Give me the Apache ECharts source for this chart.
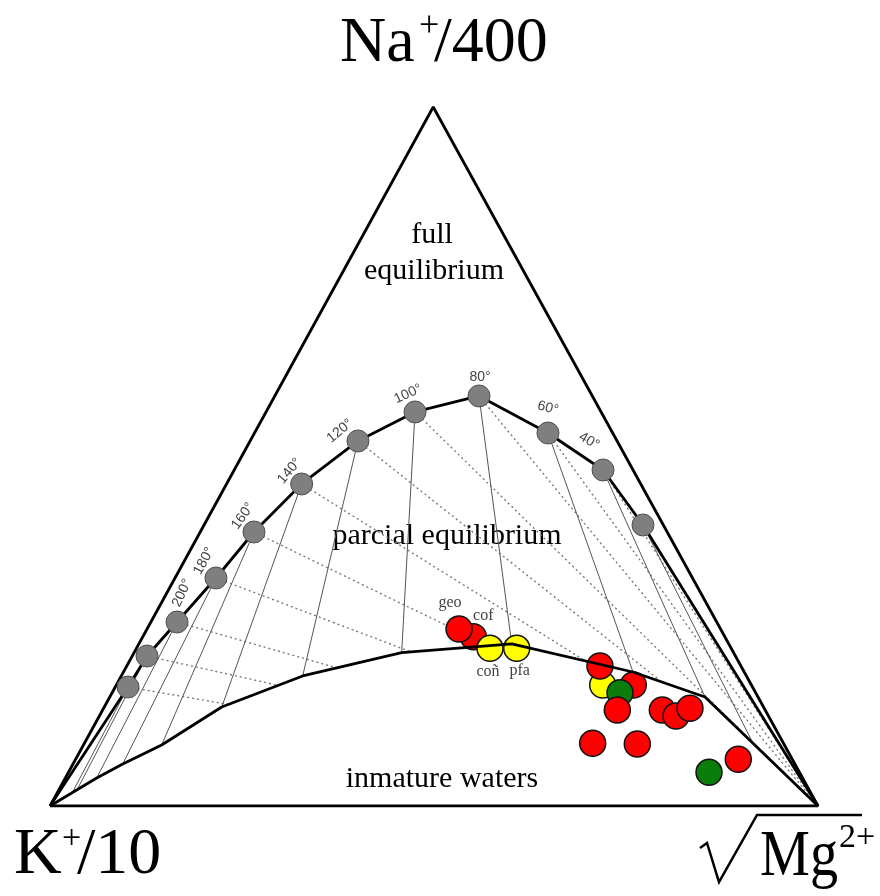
<!DOCTYPE html>
<html><head><meta charset="utf-8">
<script src="https://cdn.jsdelivr.net/npm/echarts@6/dist/echarts.min.js"></script>
<style>html,body{margin:0;padding:0;background:#fff}#c{width:880px;height:896px}</style>
</head><body><div id="c"></div>
<script>
// ---------- DATA (normalized plot units: x 0..100 along K–Mg base, y 0..100 towards the Na apex) ----------
const triangleX = [0, 49.9, 100, 0];
const triangleY = [0, 100, 0, 0];

// full equilibrium curve points (temperatures, °C)
const eqTemps = [240, 220, 200, 180, 160, 140, 120, 100, 80, 60, 40, 20];
const eqTempLabels = ['', '', '200°', '180°', '160°', '140°', '120°', '100°', '80°', '60°', '40°', ''];
const eqX = [10.16, 12.63, 16.54, 21.61, 26.56, 32.77, 40.10, 47.53, 55.86, 64.84, 72.01, 77.21];
const eqY = [17.02, 21.46, 26.32, 32.62, 39.20, 46.07, 52.22, 56.37, 58.66, 53.36, 48.07, 40.20];

// K-Mg isotherms (solid) end points on the immature-water line
const kmgEndX = [2.91, 3.52, 6.08, 9.47, 14.54, 22.36, 32.90, 45.79, 60.12, 75.91, 85.29, 91.45];
const kmgEndY = [1.92, 2.32, 4.01, 6.01, 8.73, 14.16, 18.60, 21.93, 23.18, 19.17, 15.59, 9.16];

// K-Na isotherms (dotted) end points
const knaEndX = [23.25, 29.72, 37.37, 47.03, 57.07, 69.74, 79.66, 100, 100, 100, 100, 100];
const knaEndY = [14.53, 17.26, 19.75, 22.04, 22.92, 20.74, 17.74, 0, 0, 0, 0, 0];

// immature waters boundary
const immX = [0, 6.08, 9.47, 14.54, 22.36, 32.90, 45.79, 60.12, 75.91, 85.29, 100];
const immY = [0, 4.01, 6.01, 8.73, 14.16, 18.60, 21.93, 23.18, 19.17, 15.59, 0];

// water samples
const sampleNames = ['cof', 'geo', 'coñ', 'pfa', '', '', '', '', '', '', '', '', '', '', '', ''];
const sampleGroup = ['A', 'A', 'B', 'B', 'B', 'A', 'A', 'C', 'A', 'A', 'A', 'A', 'A', 'A', 'C', 'A'];
const sampleX = [55.12, 53.26, 57.29, 60.77, 71.97, 71.61, 75.95, 74.22, 73.87, 79.73, 81.51, 83.33, 70.66, 76.47, 85.81, 89.62];
const sampleY = [24.22, 25.32, 22.56, 22.56, 17.31, 20.03, 17.31, 16.21, 13.73, 13.73, 12.88, 13.98, 8.97, 8.87, 4.82, 6.68];

// ---------- STYLE ----------
const groupColor = { A: '#ff0000', B: '#ffff00', C: '#0b7d0b' };
const tempLabelStyle = {
  '200°': { off: [5, -29], rot: 65 },
  '180°': { off: [-12, -17], rot: 62 },
  '160°': { off: [-11, -16], rot: 55 },
  '140°': { off: [-12, -13], rot: 50 },
  '120°': { off: [-18, -10], rot: 40 },
  '100°': { off: [-7, -18], rot: 25 },
  '80°': { off: [1, -19], rot: 0 },
  '60°': { off: [0, -25], rot: -15 },
  '40°': { off: [-14, -29], rot: -30 }
};
const sampleLabelStyle = {
  'geo': [-9, -26], 'cof': [10, -21], 'coñ': [-2, 23], 'pfa': [3, 22]
};
// ECharts rotates the label offset together with the label: pre-rotate so the visual offset is as wanted
const unrot = (off, deg) => {
  const t = deg * Math.PI / 180, c = Math.cos(t), s = Math.sin(t);
  return [off[0] * c - off[1] * s, off[0] * s + off[1] * c];
};

const chart = echarts.init(document.getElementById('c'), null, { renderer: 'canvas' });
const pts = (xs, ys) => xs.map((x, i) => [x, ys[i]]);
const eqPts = pts(eqX, eqY);

const series = [];
// dotted K-Na isotherms
series.push({
  type: 'lines', coordinateSystem: 'cartesian2d', z: 1, silent: true,
  lineStyle: { color: '#7a7a7a', width: 1.4, type: [2, 3], opacity: 1 },
  data: eqPts.map((p, i) => ({ coords: [p, [knaEndX[i], knaEndY[i]]] }))
});
// solid K-Mg isotherms
series.push({
  type: 'lines', coordinateSystem: 'cartesian2d', z: 2, silent: true,
  lineStyle: { color: '#555', width: 1, opacity: 1 },
  data: eqPts.map((p, i) => ({ coords: [p, [kmgEndX[i], kmgEndY[i]]] }))
});
// samples
series.push({
  type: 'scatter', z: 3, symbol: 'circle', symbolSize: 26,
  data: sampleX.map((x, i) => ({
    value: [x, sampleY[i]], name: sampleNames[i],
    itemStyle: { color: groupColor[sampleGroup[i]], borderColor: '#111', borderWidth: 1.5, opacity: 1 },
    label: sampleNames[i] ? {
      show: true, formatter: sampleNames[i], position: 'inside',
      offset: sampleLabelStyle[sampleNames[i]], color: '#444',
      fontFamily: 'Liberation Serif', fontSize: 16
    } : { show: false }
  }))
});
// thick lines
const thick = { color: '#000', width: 2.8 };
series.push({ type: 'line', z: 4, silent: true, showSymbol: false, lineStyle: thick, data: pts(triangleX, triangleY) });
series.push({ type: 'line', z: 4, silent: true, showSymbol: false, lineStyle: thick, data: [[0, 0]].concat(eqPts, [[100, 0]]) });
series.push({ type: 'line', z: 4, silent: true, showSymbol: false, lineStyle: thick, data: pts(immX, immY) });
// full-equilibrium temperature dots
series.push({
  type: 'scatter', z: 5, symbolSize: 22,
  itemStyle: { color: '#7f7f7f', borderColor: '#505050', borderWidth: 1, opacity: 1 },
  data: eqPts.map((p, i) => {
    const lab = eqTempLabels[i];
    const st = tempLabelStyle[lab];
    return {
      value: p,
      label: lab ? {
        show: true, formatter: lab, position: 'inside', offset: unrot(st.off, st.rot), rotate: st.rot,
        color: '#444', fontFamily: 'Liberation Sans', fontSize: 14
      } : { show: false }
    };
  })
});

const serif = 'Liberation Serif';
const txt = (x, y, text, size, align, sx) => ({
  type: 'text', x: x, y: y, silent: true, scaleX: sx || 1,
  style: { text: text, font: size + 'px "' + serif + '"', fill: '#000', align: align || 'left', verticalAlign: 'middle' }
});

chart.setOption({
  animation: false,
  backgroundColor: '#fff',
  grid: { left: 50, top: 107, width: 768, height: 699 },
  xAxis: { type: 'value', min: 0, max: 100, show: false },
  yAxis: { type: 'value', min: 0, max: 100, show: false },
  series: series,
  graphic: [
    txt(340, 44, 'Na', 64),
    txt(419, 27, '+', 36),
    txt(434, 44, '/400', 64),
    txt(14, 856, 'K', 66),
    txt(62, 839, '+', 34),
    txt(77, 856, '/10', 66),
    txt(760, 858, 'Mg', 66, 'left', 0.85),
    txt(839, 838, '2+', 34),
    {
      type: 'polyline', silent: true,
      shape: { points: [[700, 848], [707, 843], [719, 882], [757, 815], [862, 815]] },
      style: { stroke: '#000', lineWidth: 2.5, fill: null }
    },
    txt(432, 235, 'full', 30, 'center'),
    txt(434, 271, 'equilibrium', 30, 'center'),
    txt(447, 536, 'parcial equilibrium', 30, 'center'),
    txt(442, 779, 'inmature waters', 30, 'center')
  ]
});
</script></body></html>
